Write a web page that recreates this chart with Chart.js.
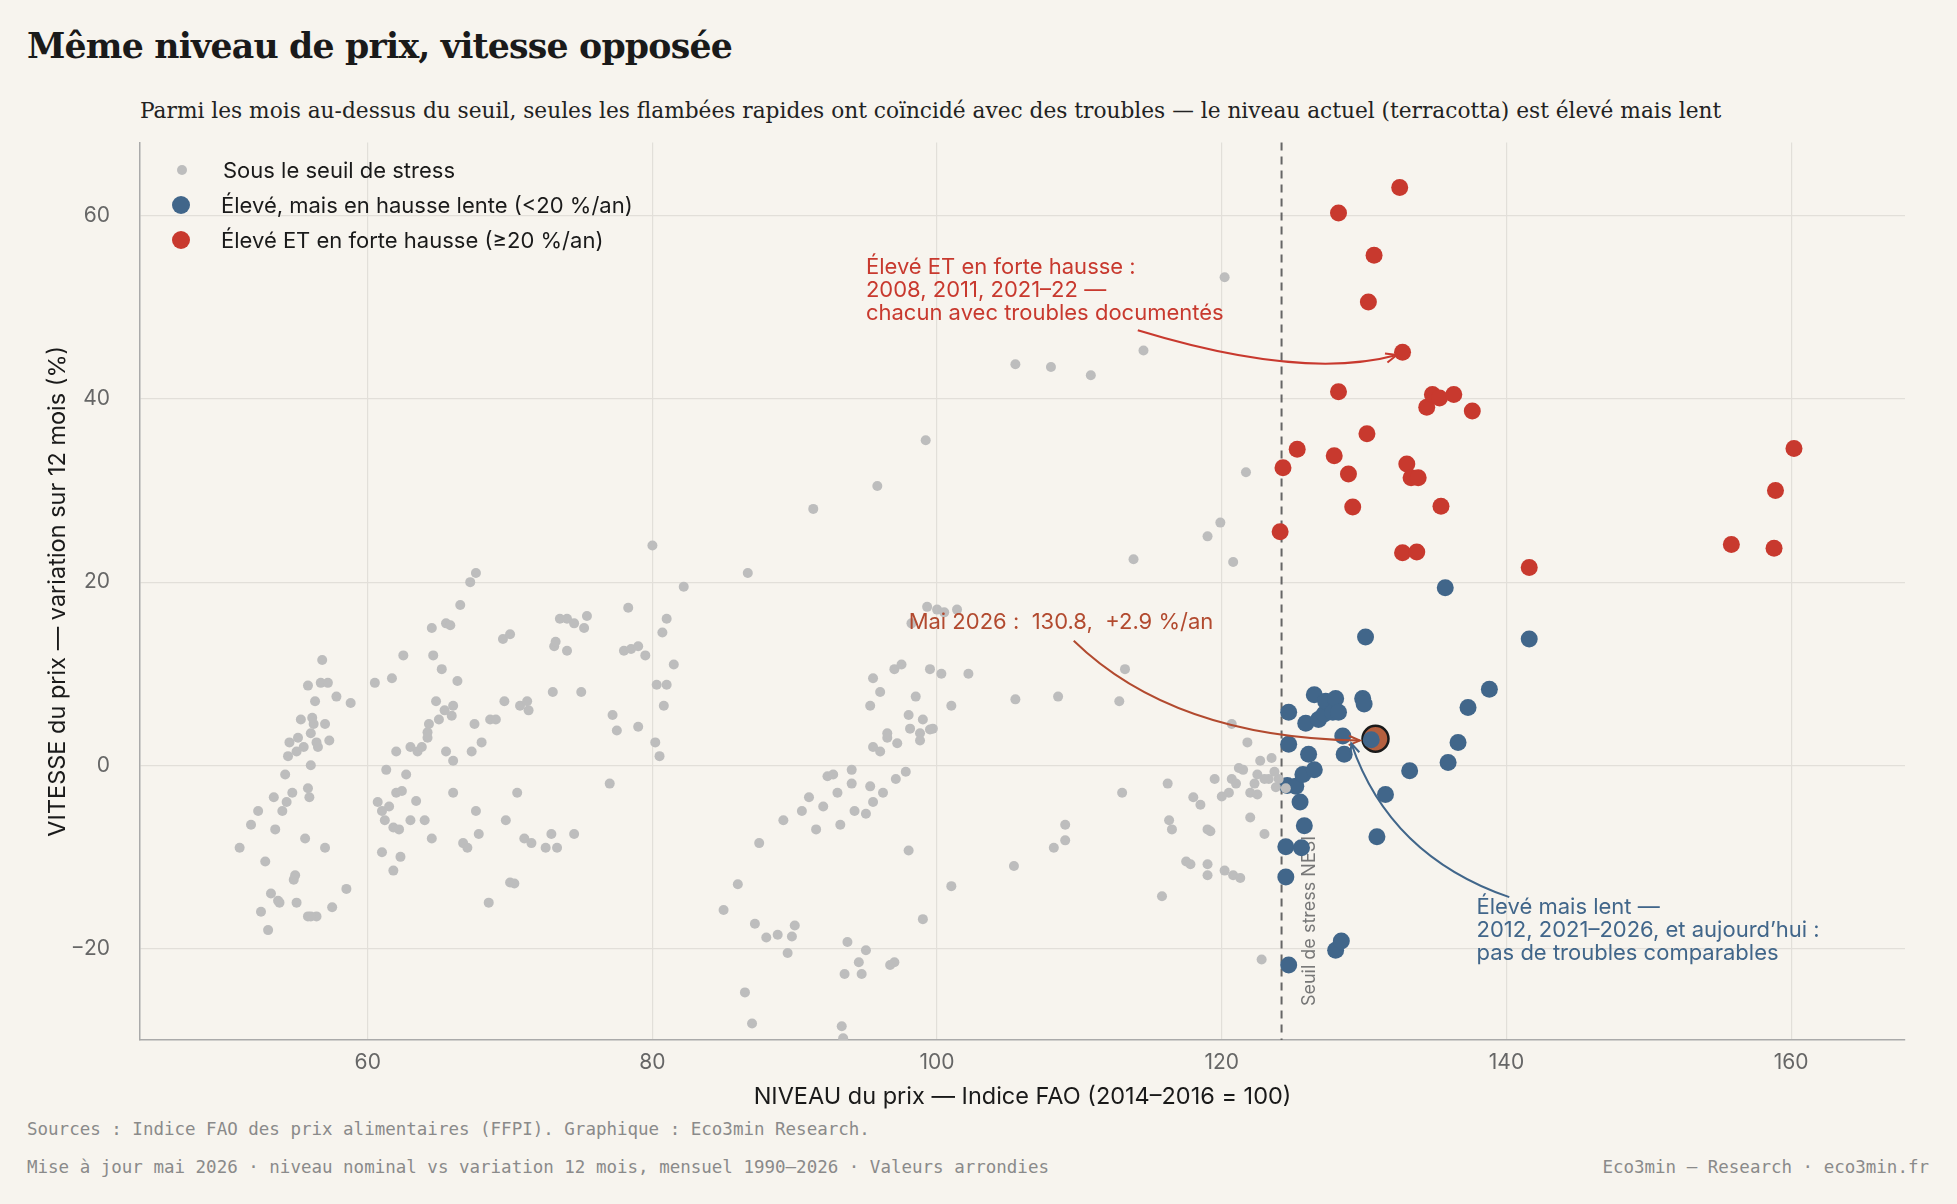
<!DOCTYPE html>
<html><head><meta charset="utf-8">
<script src="https://cdn.jsdelivr.net/npm/chart.js@4/dist/chart.umd.min.js"></script>
<style>
body{margin:0;background:#f7f4ee;width:1957px;height:1204px;overflow:hidden;position:relative;font-family:Inter,sans-serif}
#titre{position:absolute;left:27px;top:25px;font:bold 34.7px "DejaVu Serif",serif;color:#1a1a1a;letter-spacing:-0.8px}
#sous{position:absolute;left:140px;top:98px;font:21.7px "DejaVu Serif",serif;color:#222}
#wrap{position:absolute;left:0;top:100px;width:1957px;height:1015px}
.foot{position:absolute;font:17.5px "DejaVu Sans Mono",monospace;color:#8a8a8a}
#leg{position:absolute;left:172px;top:152px;font:22px Inter,sans-serif;color:#1a1a1a}
#leg div{height:35px;display:flex;align-items:center}
#leg span{display:inline-block;border-radius:50%;margin-right:31px}
</style></head><body>
<div id="titre">Même niveau de prix, vitesse opposée</div>
<div id="sous">Parmi les mois au-dessus du seuil, seules les flambées rapides ont coïncidé avec des troubles — le niveau actuel (terracotta) est élevé mais lent</div>
<div id="wrap"><canvas id="c" width="1957" height="1015"></canvas></div>
<div id="leg">
<div><span style="width:10px;height:10px;background:#bdbdbd;margin-left:5px;margin-right:36px"></span>Sous le seuil de stress</div>
<div><span style="width:18px;height:18px;background:#41668a"></span>Élevé, mais en hausse lente (&lt;20 %/an)</div>
<div><span style="width:18px;height:18px;background:#c8392e"></span>Élevé ET en forte hausse (≥20 %/an)</div>
</div>
<div class="foot" style="left:27px;top:1119px">Sources : Indice FAO des prix alimentaires (FFPI). Graphique : Eco3min Research.</div>
<div class="foot" style="left:27px;top:1157px">Mise à jour mai 2026 · niveau nominal vs variation 12 mois, mensuel 1990–2026 · Valeurs arrondies</div>
<div class="foot" style="right:28px;top:1157px">Eco3min — Research · eco3min.fr</div>
<script>
const grisPts = [[51,-9],[51.8,-6.5],[52.3,-5],[52.5,-16],[52.8,-10.5],[53,-18],[53.2,-14],[53.4,-3.5],[53.5,-7],[53.8,-15],[54,-5],[54.2,-1],[54.3,-4],[54.4,1],[54.5,2.5],[54.7,-3],[54.8,-12.5],[55,-15],[55,1.5],[55.1,3],[55.3,5],[55.5,2],[55.6,-8],[55.8,-16.5],[55.8,-2.5],[56,0],[56,3.5],[56.2,4.5],[56.3,7],[56.4,-16.5],[56.5,2],[56.7,9],[56.8,11.5],[57,4.5],[57,-9],[57.2,9],[57.5,-15.5],[57.8,7.5],[58.5,-13.5],[58.8,6.8],[53.7,-14.8],[54.9,-12],[56,-16.5],[55.8,8.7],[56.1,5.2],[55.9,-3.5],[57.3,2.7],[56.4,2.5],
[60.5,9],[60.7,-4],[61,-5],[61,-9.5],[61.2,-6],[61.3,-0.5],[61.5,-4.5],[61.7,9.5],[61.8,-11.5],[62,-3],[62,1.5],[62.2,-7],[62.3,-10],[62.5,12],[62.7,-1],[63,2],[63,-6],[63.5,1.5],[63.8,2],[64,-6],[64.2,3],[64.3,4.5],[64.5,15],[64.5,-8],[64.6,12],[64.8,7],[65,5],[65.2,10.5],[65.4,6],[65.5,1.5],[65.5,15.5],[65.8,15.3],[66,-3],[66,0.5],[66.3,9.2],[66.5,17.5],[66.7,-8.5],[67,-9],[67.2,20],[67.3,1.5],[67.5,4.5],[67.6,21],[67.6,-5],[67.8,-7.5],[68,2.5],[68.5,-15],[68.6,5],[69,5],[69.5,13.8],[69.6,7],[69.7,-6],[70,14.3],[70,-12.8],[70.3,-12.9],[70.5,-3],[70.7,6.5],[71,-8],[71.2,7],[71.5,-8.5],[71.3,6],[72.5,-9],[72.9,-7.5],[73,8],[73.1,13],[73.2,13.5],[73.3,-9],[73.5,16],[74,12.5],[74,16],[74.5,15.5],[74.5,-7.5],[75,8],[75.2,15],[75.4,16.3],[64.2,3.6],[63.4,-3.9],[62.4,-2.8],[61.8,-6.8],[65.9,5.4],[66,6.5],
[77,-2],[77.2,5.5],[77.5,3.8],[78,12.5],[78.3,17.2],[78.5,12.7],[79,13],[79,4.2],[79.5,12],[80,24],[80.3,8.8],[80.5,1],[80.2,2.5],[80.7,14.5],[81,16],[80.8,6.5],[81.5,11],[82.2,19.5],[81,8.8],
[85,-15.8],[86,-13],[86.5,-24.8],[86.7,21],[87,-28.2],[87.2,-17.3],[87.5,-8.5],[88,-18.8],[88.8,-18.5],[89.2,-6],[89.5,-20.5],[89.8,-18.7],[90,-17.5],[90.5,-5],[91,-3.5],[91.3,28],[91.5,-7],[92,-4.5],[92.3,-1.2],[92.7,-1],[93,-3],[93.2,-6.5],[93.4,-29.8],[93.3,-28.5],[93.5,-22.8],[93.7,-19.3],[94,-2],[94.2,-5],[94.5,-21.5],[94.7,-22.8],[95,-20.2],[95,-5.3],[95.3,-2.3],[95.3,6.5],[95.5,9.5],[95.5,2],[95.8,30.5],[96,8],[96,1.5],[96.2,-3],[96.5,3],[96.7,-21.8],[97,-21.5],[97,10.5],[97.5,11],[97.8,-0.7],[98,5.5],[98,-9.3],[98.2,15.5],[98.5,7.5],[98.8,3.5],[99,-16.8],[99,5],[99.2,35.5],[99.3,17.3],[99.5,10.5],[99.7,4],[100.3,10],[100.5,16.7],[101,6.5],[101,-13.2],[102.2,10],[98.8,2.7],[99.5,3.9],[97.2,2.4],[96.5,3.5],[94,-0.5],[95.5,-4],[97.1,-1.5],[98.1,4],[100,17],[101.4,17],
[105.5,43.8],[105.4,-11],[105.5,7.2],[108,43.5],[108.5,7.5],[108.2,-9],[109,-8.2],[109,-6.5],[110.8,42.6],[112.8,7],[113,-3],[113.2,10.5],[113.8,22.5],[114.5,45.3],[115.8,-14.3],[116.2,-2],[116.3,-6],[116.5,-7],[117.5,-10.5],[117.8,-10.8],[118,-3.5],[118.5,-4.3],[119,-7],[119,-10.8],[119,25],[119,-12],[119.2,-7.2],[119.5,-1.5],[119.9,26.5],[120,-3.4],[120.2,53.3],[120.2,-11.5],[120.5,-3],[120.7,4.5],[120.7,-1.5],[120.8,-12],[120.8,22.2],[121,-2],[121.2,-0.3],[121.3,-12.3],[121.5,-0.5],[121.7,32],[121.8,2.5],[122,-5.7],[122.3,-2],[122.5,-1],[122.7,0.5],[122.8,-21.2],[123,-7.5],[123.3,-1.5],[123.5,0.8],[123.8,-2.4],[124,-1.5],[123.7,-0.7],[122,-3],[123,-1.5],[122.5,-3.2],[124.5,-2.5]];
const bleuPts = [[124.7,5.8],[124.7,2.3],[124.6,-2.2],[124.5,-8.9],[124.5,-12.2],[124.7,-21.8],[125.2,-2.3],[125.5,-4],[125.6,-9],[125.7,-1],[125.8,-6.6],[125.9,4.6],[126.1,1.2],[126.5,-0.5],[126.5,7.7],[126.8,5],[127.2,5.6],[127.3,7],[127.8,5.8],[128,7.3],[128,-20.2],[128.2,5.8],[128.4,-19.2],[128.5,3.2],[128.6,1.2],[129.9,7.3],[130,6.7],[130.1,14],[130.5,2.8],[130.9,-7.8],[131.5,-3.2],[133.2,-0.6],[135.7,19.4],[135.9,0.3],[136.6,2.5],[137.3,6.3],[138.8,8.3],[141.6,13.8]];
const rougePts = [[124.3,32.5],[124.1,25.5],[125.3,34.5],[127.9,33.8],[128.2,60.3],[128.2,40.8],[128.9,31.8],[129.2,28.2],[130.2,36.2],[130.3,50.6],[130.7,55.7],[132.5,63.1],[132.7,45.1],[132.7,23.2],[133,32.9],[133.3,31.4],[133.8,31.4],[133.7,23.3],[134.4,39.1],[134.8,40.5],[135.3,40.1],[135.4,28.3],[136.3,40.5],[137.6,38.7],[141.6,21.6],[155.8,24.1],[158.8,23.7],[158.9,30],[160.2,34.6]];
const actuel = [130.8, 2.9];
const seuil = 124.2;
const xTicks = [60, 80, 100, 120, 140, 160];
const yTicks = [-20, 0, 20, 40, 60];

const toXY = a => a.map(p => ({x: p[0], y: p[1]}));

const annotations = {
  id: 'annot',
  beforeDatasetsDraw(chart) {
    const {ctx, scales: {x, y}, chartArea} = chart;
    ctx.save();
    ctx.strokeStyle = '#666'; ctx.lineWidth = 2; ctx.setLineDash([8, 6]);
    ctx.beginPath(); ctx.moveTo(x.getPixelForValue(seuil), chartArea.top); ctx.lineTo(x.getPixelForValue(seuil), chartArea.bottom); ctx.stroke();
    ctx.setLineDash([]);
    ctx.translate(x.getPixelForValue(126.2), y.getPixelForValue(-26.3)); ctx.rotate(-Math.PI / 2);
    ctx.font = '18px Inter'; ctx.fillStyle = '#777'; ctx.textBaseline = 'middle'; ctx.textAlign = 'left';
    ctx.fillText('Seuil de stress NESI', 0, 0);
    ctx.restore();
  },
  afterDatasetsDraw(chart) {
    const {ctx, scales: {x, y}} = chart;
    const P = (a, b) => [x.getPixelForValue(a), y.getPixelForValue(b)];
    ctx.save();
    function fleche(a, c, b, col) {
      const p0 = P(...a), pc = P(...c), p1 = P(...b);
      ctx.strokeStyle = col; ctx.lineWidth = 2;
      ctx.beginPath(); ctx.moveTo(...p0); ctx.quadraticCurveTo(...pc, ...p1); ctx.stroke();
      const ang = Math.atan2(p1[1] - pc[1], p1[0] - pc[0]);
      ctx.beginPath();
      ctx.moveTo(p1[0] - 12 * Math.cos(ang - 0.4), p1[1] - 12 * Math.sin(ang - 0.4));
      ctx.lineTo(...p1);
      ctx.lineTo(p1[0] - 12 * Math.cos(ang + 0.4), p1[1] - 12 * Math.sin(ang + 0.4));
      ctx.stroke();
    }
    function texte(lignes, pos, col) {
      const [tx, ty] = P(...pos);
      ctx.font = '22px Inter'; ctx.fillStyle = col; ctx.textAlign = 'left'; ctx.textBaseline = 'middle';
      lignes.forEach((l, i) => ctx.fillText(l, tx, ty + i * 23));
    }
    fleche([114.1, 47.5], [125.7, 42], [132.3, 44.8], '#c8392e');
    fleche([109.6, 13.6], [116.6, 3], [129.7, 2.7], '#b24a2f');
    fleche([140.2, -14.4], [131.8, -9.9], [129.1, 2.4], '#41668a');
    texte(['Élevé ET en forte hausse :', '2008, 2011, 2021–22 —', 'chacun avec troubles documentés'], [95.0, 54.4], '#c8392e');
    texte(['Mai 2026 :  130.8,  +2.9 %/an'], [98.0, 15.6], '#b24a2f');
    texte(['Élevé mais lent —', '2012, 2021–2026, et aujourd’hui :', 'pas de troubles comparables'], [137.9, -15.5], '#41668a');
    ctx.restore();
  }
};

new Chart(document.getElementById('c'), {
  type: 'scatter',
  data: {
    datasets: [
      { label: 'Sous le seuil de stress', data: toXY(grisPts), backgroundColor: '#bdbdbd', borderWidth: 0, pointRadius: 5 },
      { label: 'Élevé, mais en hausse lente (<20 %/an)', data: toXY(bleuPts), backgroundColor: '#41668a', borderWidth: 0, pointRadius: 8.5 },
      { label: 'Élevé ET en forte hausse (≥20 %/an)', data: toXY(rougePts), backgroundColor: '#c8392e', borderWidth: 0, pointRadius: 8.5 },
      { label: 'Mai 2026', data: [{x: actuel[0], y: actuel[1]}], backgroundColor: '#b5603f', borderColor: '#1a1a1a', borderWidth: 2.5, pointRadius: 13 }
    ]
  },
  plugins: [annotations],
  options: {
    responsive: false, animation: false, devicePixelRatio: 1,
    layout: { padding: { left: 40, right: 52, top: 0, bottom: 0 } },
    plugins: { legend: { display: false }, tooltip: { enabled: false } },
    scales: {
      x: {
        min: 44, max: 168,
        afterBuildTicks: s => { s.ticks = xTicks.map(v => ({value: v})); },
        afterFit: s => { s.height = 75; },
        grid: { color: '#e2dfd9', lineWidth: 1.2, drawTicks: false },
        border: { color: '#aaa', width: 1.5 },
        ticks: { color: '#666', font: { size: 21, family: 'Inter' }, padding: 10 },
        title: { display: true, text: 'NIVEAU du prix — Indice FAO (2014–2016 = 100)', color: '#1a1a1a', font: { size: 23.5, family: 'Inter' }, padding: { top: 4 } }
      },
      y: {
        min: -30, max: 68,
        afterBuildTicks: s => { s.ticks = yTicks.map(v => ({value: v})); },
        afterFit: s => { s.width = 100; },
        grid: { color: '#e2dfd9', lineWidth: 1.2, drawTicks: false },
        border: { color: '#aaa', width: 1.5 },
        ticks: { color: '#666', font: { size: 21, family: 'Inter' }, padding: 30, callback: v => v < 0 ? '−' + Math.abs(v) : v },
        title: { display: true, text: 'VITESSE du prix — variation sur 12 mois (%)', color: '#1a1a1a', font: { size: 23.5, family: 'Inter' }, padding: { bottom: 0 } }
      }
    }
  }
});
</script>
</body></html>
